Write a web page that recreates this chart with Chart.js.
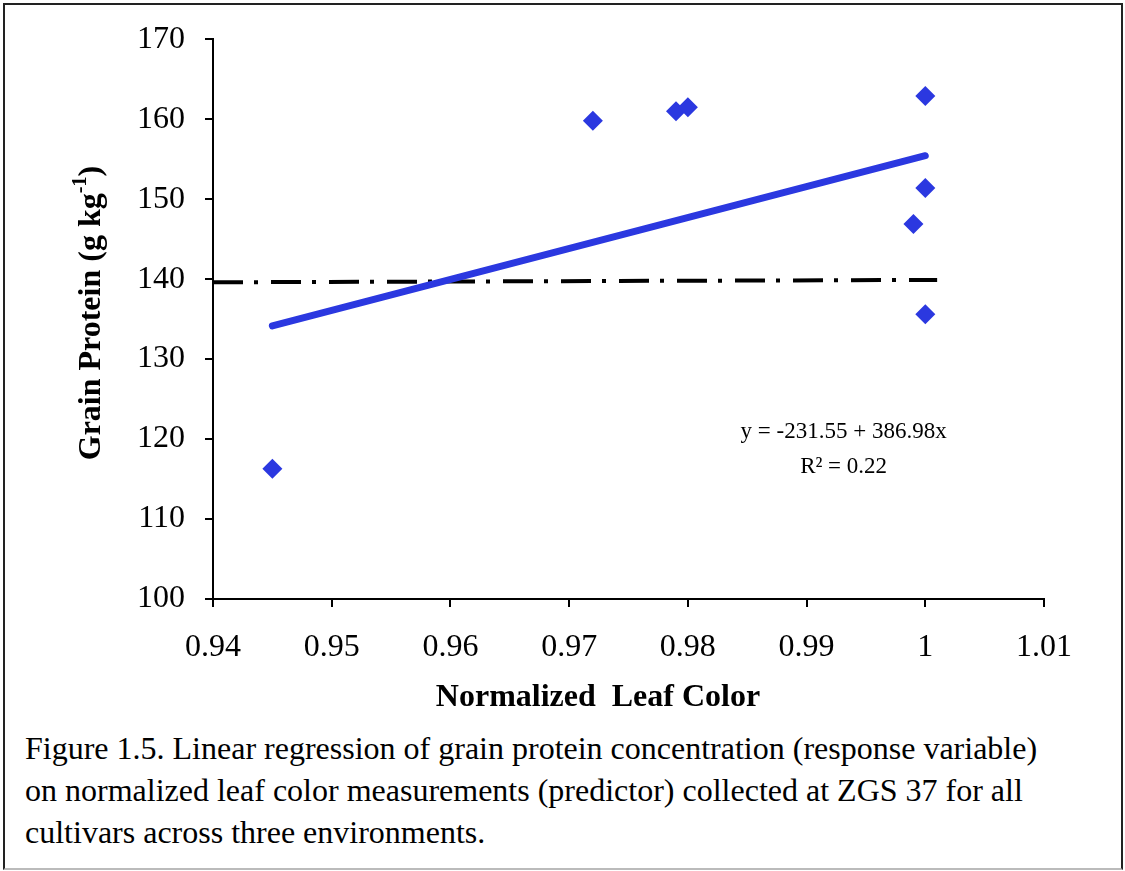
<!DOCTYPE html>
<html>
<head>
<meta charset="utf-8">
<script src="https://cdn.jsdelivr.net/npm/chart.js@4.4.1/dist/chart.umd.min.js"></script>
<style>
  html, body { margin: 0; padding: 0; background: #fff; }
  body { width: 1125px; height: 871px; position: relative; overflow: hidden; font-family: 'Liberation Serif', 'Times New Roman', serif; }
  #frame { position: absolute; left: 3px; top: 3px; width: 1116px; height: 863px; border: 2px solid #222; border-bottom-color: #bbb; }
  #plot-wrap { position: absolute; left: 0; top: 0; width: 1125px; height: 706px; overflow: hidden; }
  #caption { position: absolute; left: 25px; top: 727px; width: 1090px; font-size: 32px; line-height: 42px; color: #000; white-space: nowrap; }
</style>
</head>
<body>
<div id="frame"></div>
<div id="plot-wrap">
  <canvas id="proteinChart" width="1125" height="740"></canvas>
</div>
<div id="caption">Figure 1.5. Linear regression of grain protein concentration (response variable)<br>on normalized leaf color measurements (predictor) collected at ZGS 37 for all<br>cultivars across three environments.</div>

<script>
// --- Data ---
const leafColor = [0.945, 0.972, 0.979, 0.980, 1.000, 1.000, 0.999, 1.000];
const grainProtein = [116.3, 159.8, 161.0, 161.5, 162.9, 151.4, 146.9, 135.6];

// fitted line, as printed on the chart
const fitIntercept = -231.55;
const fitSlope = 386.98;
const fitR2 = 0.22;
const fitRangeX = [0.945, 1.0];

// dash-dot reference line
const refLineX = [0.94, 1.001];
const refLineY = [139.6, 139.9];

const xMin = 0.94, xMax = 1.01, xStep = 0.01;
const yMin = 100, yMax = 170, yStep = 10;

const markColor = '#2b38e0';
const serif = "'Liberation Serif', 'Times New Roman', serif";

Chart.defaults.font.family = serif;
Chart.defaults.color = '#000';

const points = leafColor.map((x, i) => ({ x: x, y: grainProtein[i] }));
const fitLine = fitRangeX.map(x => ({ x: x, y: fitIntercept + fitSlope * x }));
const refLine = refLineX.map((x, i) => ({ x: x, y: refLineY[i] }));

// axis titles (y one needs a superscript) and the regression equation
const chartText = {
    id: 'chartText',
    afterDraw(chart) {
        const ctx = chart.ctx;
        const { x, y } = chart.scales;
        const area = chart.chartArea;

        // y title, rotated
        ctx.save();
        ctx.translate(92, (area.top + area.bottom) / 2 - 6);
        ctx.rotate(-Math.PI / 2);
        ctx.fillStyle = '#000';
        ctx.textBaseline = 'middle';
        ctx.textAlign = 'left';
        const main = 'Grain Protein (g kg';
        const sup = '-1';
        const close = ')';
        ctx.font = 'bold 32px ' + serif;
        const wMain = ctx.measureText(main).width;
        const wClose = ctx.measureText(close).width;
        ctx.font = 'bold 20px ' + serif;
        const wSup = ctx.measureText(sup).width;
        const start = -(wMain + wSup + wClose) / 2;
        ctx.font = 'bold 32px ' + serif;
        ctx.fillText(main, start, 0);
        ctx.font = 'bold 20px ' + serif;
        ctx.fillText(sup, start + wMain, -11);
        ctx.font = 'bold 32px ' + serif;
        ctx.fillText(close, start + wMain + wSup, 0);
        ctx.restore();

        // x title
        ctx.save();
        ctx.fillStyle = '#000';
        ctx.font = 'bold 32px ' + serif;
        ctx.textAlign = 'center';
        ctx.textBaseline = 'alphabetic';
        ctx.fillText('Normalized  Leaf Color', 598, 706);
        ctx.restore();

        // equation, centred block
        ctx.save();
        ctx.fillStyle = '#000';
        ctx.textAlign = 'center';
        ctx.textBaseline = 'middle';
        ctx.font = '23px ' + serif;
        const ex = x.getPixelForValue(0.99312);
        ctx.fillText('y = ' + fitIntercept.toFixed(2) + ' + ' + fitSlope.toFixed(2) + 'x', ex, y.getPixelForValue(120.9));
        ctx.fillText('R\u00B2 = ' + fitR2.toFixed(2), ex, y.getPixelForValue(116.5));
        ctx.restore();
    }
};

new Chart(document.getElementById('proteinChart'), {
    type: 'scatter',
    data: {
        datasets: [
            {
                data: refLine,
                showLine: true,
                borderColor: '#000',
                borderWidth: 4,
                borderDash: [30, 11, 4, 13],
                borderCapStyle: 'butt',
                pointRadius: 0,
                order: 3
            },
            {
                data: fitLine,
                showLine: true,
                borderColor: markColor,
                borderWidth: 7,
                borderCapStyle: 'round',
                pointRadius: 0,
                order: 2
            },
            {
                data: points,
                pointStyle: 'rectRot',
                pointRadius: 10,
                pointBackgroundColor: markColor,
                pointBorderColor: markColor,
                pointBorderWidth: 0,
                order: 1
            }
        ]
    },
    options: {
        responsive: false,
        animation: false,
        events: [],
        layout: { padding: { top: 39, right: 81, left: 0, bottom: 0 } },
        plugins: {
            legend: { display: false },
            tooltip: { enabled: false }
        },
        scales: {
            x: {
                type: 'linear',
                min: xMin,
                max: xMax,
                border: { color: '#000', width: 2 },
                grid: { drawOnChartArea: false, color: '#000', lineWidth: 2, tickLength: 8 },
                ticks: {
                    stepSize: xStep,
                    padding: 21,
                    font: { size: 32 },
                    color: '#000',
                    callback: v => String(parseFloat(v.toFixed(2)))
                },
                afterFit: scale => { scale.height = 141; }
            },
            y: {
                min: yMin,
                max: yMax,
                border: { color: '#000', width: 2 },
                grid: { drawOnChartArea: false, color: '#000', lineWidth: 2, tickLength: 8 },
                ticks: {
                    stepSize: yStep,
                    padding: 20,
                    font: { size: 32 },
                    color: '#000'
                },
                afterFit: scale => { scale.width = 213; }
            }
        }
    },
    plugins: [chartText]
});
</script>
</body>
</html>
